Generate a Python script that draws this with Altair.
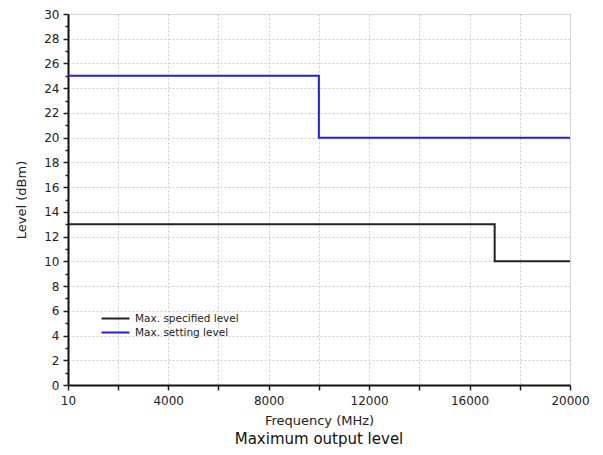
import altair as alt
import pandas as pd

# Data
blue_freq = [10, 10000, 20000]
blue_level = [25, 20, 20]
black_freq = [10, 17000, 20000]
black_level = [13, 10, 10]
series_names = ["Max. specified level", "Max. setting level"]
x_ticks = [10] + list(range(2000, 20001, 2000))
y_ticks = list(range(0, 31))

df = pd.concat([
    pd.DataFrame({"freq": black_freq, "level": black_level, "series": series_names[0]}),
    pd.DataFrame({"freq": blue_freq, "level": blue_level, "series": series_names[1]}),
])

font = "DejaVu Sans"

x_axis = alt.Axis(
    values=x_ticks,
    labelExpr="(datum.value == 10 || datum.value % 4000 == 0) ? datum.label : ''",
    format="d",
    title="Frequency (MHz)",
    titleFont=font, titleFontSize=13, titleFontWeight="normal", titleColor="#222",
    titlePadding=8,
    labelFont=font, labelFontSize=12, labelColor="#222", labelPadding=5,
    labelFlush=False, labelOverlap=False,
    tickColor="#222", tickSize=5, tickWidth=1.5,
    domainColor="#111", domainWidth=2,
    grid=True, gridColor="#cccccc", gridDash=[2, 2], gridWidth=1,
)

y_axis = alt.Axis(
    values=y_ticks,
    labelExpr="datum.value % 2 == 0 ? datum.label : ''",
    title="Level (dBm)",
    titleFont=font, titleFontSize=13, titleFontWeight="normal", titleColor="#222",
    titlePadding=15,
    labelFont=font, labelFontSize=12, labelColor="#222", labelPadding=4,
    labelFlush=False, labelOverlap=False,
    tickColor="#222", tickWidth=1.5,
    tickSize={"condition": {"test": "datum.value % 2 == 0", "value": 5}, "value": 3},
    gridOpacity={"condition": {"test": "datum.value % 2 == 0", "value": 1}, "value": 0},
    domainColor="#111", domainWidth=2,
    grid=True, gridColor="#cccccc", gridDash=[2, 2], gridWidth=1,
)

chart = alt.Chart(df).mark_line(interpolate="step-after", strokeWidth=2).encode(
    x=alt.X("freq:Q", scale=alt.Scale(domain=[10, 20000], nice=False, zero=False), axis=x_axis),
    y=alt.Y("level:Q", scale=alt.Scale(domain=[0, 30], nice=False), axis=y_axis),
    color=alt.Color(
        "series:N",
        scale=alt.Scale(domain=series_names, range=["#222222", "#1f1fe8"]),
        legend=alt.Legend(
            title=None, orient="none", legendX=40, legendY=297,
            symbolType="M-2.15,0H2.15", symbolStrokeWidth=2, symbolSize=169,
            symbolFillColor="transparent",
            labelFont=font, labelFontSize=10.5, labelColor="#222",
            rowPadding=1, symbolOffset=0, labelOffset=12,
        ),
    ),
).properties(
    width=587,
    height=439,
    autosize=alt.AutoSizeParams(type="fit", contains="padding"),
    title=alt.TitleParams(
        "Maximum output level", orient="bottom", font=font, fontSize=15,
        fontWeight="normal", color="#111", offset=5,
    ),
    padding={"left": 7, "top": 0, "right": 5, "bottom": 0},
).configure_view(
    stroke="#111", strokeWidth=1.5
).configure(background="white")

chart.save("out.html", embed_options={"renderer": "svg", "actions": False})
